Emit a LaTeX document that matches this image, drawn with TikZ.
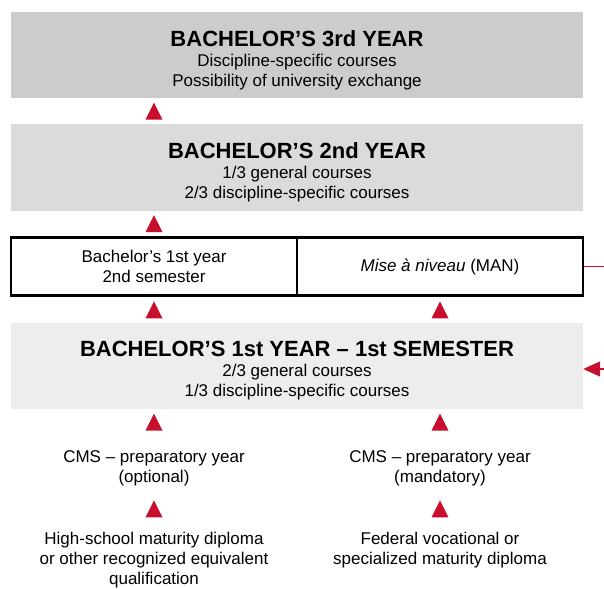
\documentclass[tikz,border=0pt]{standalone}
\usepackage{fontspec}
\setmainfont{Liberation Sans}
\usetikzlibrary{arrows.meta,calc}
\definecolor{tipred}{HTML}{C8102E}
\newcommand{\uptri}[1]{\fill[tipred] (#1) +(-8.5,8.5) -- +(8.5,8.5) -- +(0,-8.5) -- cycle;}
\newcommand{\yeartitle}[1]{{\fontsize{22}{24}\selectfont\bfseries\rule{0pt}{26pt}#1}}

\begin{document}
\begin{tikzpicture}[x=1pt,y=-1pt,
  yearbox/.style={minimum width=572pt,minimum height=86pt,inner sep=0pt,align=center,font=\fontsize{17}{20}\selectfont},
  halfbox/.style={draw,line width=2.8pt,minimum width=286pt,minimum height=58pt,inner sep=0pt,align=center,font=\fontsize{17}{20}\selectfont},
  plain/.style={align=center,inner sep=0pt,font=\fontsize{17}{20}\selectfont}]
\useasboundingbox (0,0) rectangle (604,588);

\node[yearbox,fill=black!20] (y3) at (297,55) {\yeartitle{BACHELOR’S 3rd YEAR}\\Discipline-specific courses\\Possibility of university exchange};
\node[yearbox,fill=black!14] (y2) at (297,167.5) {\yeartitle{BACHELOR’S 2nd YEAR}\\1/3 general courses\\2/3 discipline-specific courses};
\node[halfbox] (sem2) at (154,266.5) {Bachelor’s 1st year\\2nd semester};
\node[halfbox] (man) at (440,266.5) {\itshape Mise à niveau\upshape{} (MAN)};
\node[yearbox,fill=black!7] (y1) at (297,365.5) {\yeartitle{BACHELOR’S 1st YEAR -- 1st SEMESTER}\\2/3 general courses\\1/3 discipline-specific courses};

\node[plain] (cmsopt) at (154,468) {CMS -- preparatory year\\(optional)};
\node[plain] (cmsman) at (440,468) {CMS -- preparatory year\\(mandatory)};
\node[plain] (hsdipl) at (154,560) {High-school maturity diploma\\or other recognized equivalent\\qualification};
\node[plain] (fddipl) at (440,550) {Federal vocational or\\specialized maturity diploma};

\uptri{$(sem2.north|-y3.south)+(0,13)$}
\uptri{$(sem2.north|-y2.south)+(0,13)$}
\uptri{$(sem2.south)+(0,13)$}
\uptri{$(man.south)+(0,13)$}
\uptri{$(sem2.south|-y1.south)+(0,13.5)$}
\uptri{$(man.south|-y1.south)+(0,13.5)$}
\uptri{$(cmsopt.south)!.5!(hsdipl.north)$}
\uptri{$(cmsman.south)!.5!(cmsman.south|-hsdipl.north)$}

\begin{scope}
\clip (0,0) rectangle (604,588);
\draw[tipred,line width=1.4pt,-{Triangle[length=17pt,width=15pt]}] (man.east) -- ++(24,0) |- ($(y1.east)+(0,3.5)$);
\end{scope}
\end{tikzpicture}
\end{document}
